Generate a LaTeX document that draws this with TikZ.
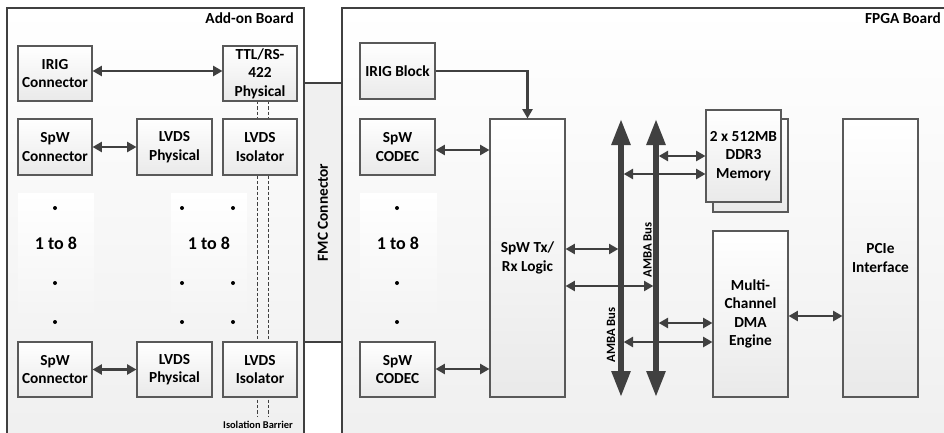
\documentclass[tikz,border=0pt]{standalone}
\usepackage{fontspec}
\setmainfont{Carlito}
\usetikzlibrary{arrows.meta,shadows,calc}
\definecolor{dk}{HTML}{404040}
\definecolor{bd}{HTML}{595959}
\begin{document}
\begin{tikzpicture}[x=0.75pt,y=-0.75pt,
  boardst/.style={draw=dk, line width=1.5pt, top color=white, bottom color=gray!13},
  bx/.style 2 args={draw=bd, line width=0.8pt, top color=white, bottom color=gray!17,
    minimum width=#1*0.75pt, minimum height=#2*0.75pt, inner sep=1pt, align=center,
    font=\bfseries\fontsize{11.5}{13.8}\selectfont,
    drop shadow={shadow xshift=1.1pt, shadow yshift=-1.1pt, opacity=0.25, fill=gray}},
  panel/.style 2 args={top color=white, bottom color=gray!9, minimum width=#1*0.75pt,
    minimum height=#2*0.75pt, inner sep=0pt},
  big/.style={font=\bfseries\fontsize{13.5}{16}\selectfont, inner sep=0pt},
  boardlbl/.style={font=\bfseries\fontsize{11.5}{13.8}\selectfont, inner sep=0pt},
  amba/.style={font=\bfseries\fontsize{9.5}{11}\selectfont, rotate=90, inner sep=0pt},
  conn/.style={draw=dk, line width=1.7pt, {Triangle[length=7pt,width=7.5pt]}-{Triangle[length=7pt,width=7.5pt]}},
  conn1/.style={draw=dk, line width=1.7pt, -{Triangle[length=7pt,width=7.5pt]}},
  bus/.style={draw=dk, line width=4.2pt, {Triangle[length=19.5pt,width=13.5pt]}-{Triangle[length=19.5pt,width=13.5pt]}},
  barrier/.style={draw=dk, line width=0.5pt, dash pattern=on 2.5pt off 1.5pt},
  dot/.style={fill=black}
]
\clip (0,0) rectangle (944,432);
\fill[white] (0,0) rectangle (944,432);

% boards
\path[boardst] (342,8) rectangle (980,470);
\path[boardst] (7,8) rectangle (304,470);

% FMC connector
\node[fill=gray!12, rotate=90, minimum width=259*0.75pt, minimum height=36*0.75pt,
      inner sep=0pt, font=\bfseries\fontsize{11.5}{13.8}\selectfont] (fmc) at (323,212.5) {FMC Connector};
\draw[dk, line width=0.8pt] (304,83) -- (342,83);
\draw[dk, line width=0.8pt] (304,342) -- (342,342);

% board labels
\node[boardlbl, anchor=east] (addl) at (294,18) {Add-on Board};
\node[boardlbl, anchor=east] (fpgal) at (941,18) {FPGA Board};

% helper y coordinates
\coordinate (y71) at (0,71);
\coordinate (y150) at (0,150);
\coordinate (y156) at (0,156);
\coordinate (y174) at (0,174);
\coordinate (y249) at (0,249);
\coordinate (y286) at (0,286);
\coordinate (y316) at (0,316);
\coordinate (y323) at (0,323);
\coordinate (y342) at (0,342);
\coordinate (y369) at (0,369);

% isolation barrier
\draw[barrier] (257,101) -- (257,416);
\draw[barrier] (268,101) -- (268,416);
\node[font=\bfseries\fontsize{7.8}{9}\selectfont, inner sep=0pt] (isol) at (258,425) {Isolation Barrier};

% panels
\node[panel={76}{131}] (pA) at (56,258.5) {};
\node[panel={76}{131}] (pB) at (209,258.5) {};
\node[panel={77}{131}] (pC) at (398.5,258.5) {};
\node[big] (tA) at (56,243) {1 to 8};
\node[big] (tB) at (209,243) {1 to 8};
\node[big] (tC) at (398,243) {1 to 8};
\foreach \yy in {208,283,322}{
  \fill[dot] (55,\yy) circle (2);
  \fill[dot] (182,\yy) circle (2);
  \fill[dot] (233,\yy) circle (2);
  \fill[dot] (397,\yy) circle (2);
}

% add-on board blocks
\node[bx={74}{55}] (ircon) at (55,73.5) {IRIG\\Connector};
\node[bx={74}{55}] (ttl) at (260,73.5) {TTL/RS-\\422\\Physical};
\node[bx={74}{56}] (spw1) at (55,147) {SpW\\Connector};
\node[bx={75}{56}] (lp1) at (174.5,147) {LVDS\\Physical};
\node[bx={74}{56}] (iso1) at (260,147) {LVDS\\Isolator};
\node[bx={74}{55}] (spw2) at (55,369.5) {SpW\\Connector};
\node[bx={75}{55}] (lp2) at (174.5,369.5) {LVDS\\Physical};
\node[bx={74}{55}] (iso2) at (260,369.5) {LVDS\\Isolator};

% FPGA board blocks
\node[bx={75}{56}] (irigb) at (397.5,71) {IRIG Block};
\node[bx={75}{56}] (cod1) at (397.5,147) {SpW\\CODEC};
\node[bx={75}{55}] (cod2) at (397.5,369.5) {SpW\\CODEC};
\node[bx={75}{278}] (txrx) at (527.5,258) {SpW Tx/\\Rx Logic};
\node[bx={75}{93}] (memb) at (750.5,165.5) {};
\node[bx={75}{92}] (mem) at (743.5,156) {2 x 512MB\\DDR3\\Memory};
\node[bx={75}{166}] (dma) at (750.5,314) {Multi-\\Channel\\DMA\\Engine};
\node[bx={75}{278}] (pcie) at (880.5,258) {PCIe\\Interface};

% bus coordinates
\coordinate (b1t) at (621,119);
\coordinate (b1b) at (621,397);
\coordinate (b2t) at (656,119);
\coordinate (b2b) at (656,397);

% connectors
\draw[conn] (ircon.east |- y71) -- (ttl.west |- y71);
\draw[conn] (spw1) -- (lp1);
\draw[conn] (spw2) -- (lp2);
\draw[conn1] (irigb.east |- y71) -| (txrx.north);
\draw[conn] (cod1.east |- y150) -- (txrx.west |- y150);
\draw[conn] (cod2.east |- y369) -- (txrx.west |- y369);
\draw[conn, shorten >=2pt] (txrx.east |- y249) -- (b1t |- y249);
\draw[conn, shorten >=2pt] (txrx.east |- y286) -- (b2t |- y286);
\draw[conn, shorten <=2pt] (b2t |- y156) -- (mem.west |- y156);
\draw[conn, shorten <=2pt] (b1t |- y174) -- (mem.west |- y174);
\draw[conn, shorten <=2pt] (b2t |- y323) -- (dma.west |- y323);
\draw[conn, shorten <=2pt] (b1t |- y342) -- (dma.west |- y342);
\draw[conn] (dma.east |- y316) -- (pcie.west |- y316);

% buses
\draw[bus] (b1b) -- (b1t);
\draw[bus] (b2b) -- (b2t);
\node[amba] (am1) at (611,335) {AMBA Bus};
\node[amba] (am2) at (647.5,250) {AMBA Bus};
\end{tikzpicture}
\end{document}
